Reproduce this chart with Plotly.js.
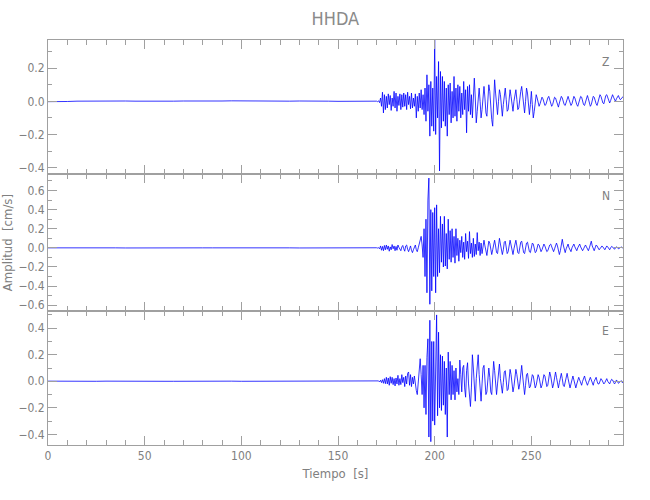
<!DOCTYPE html>
<html>
<head>
<meta charset="utf-8">
<script src="https://cdn.plot.ly/plotly-3.0.1.min.js"></script>
<style>html,body{margin:0;padding:0;background:#fff}#chart{width:650px;height:500px}</style>
</head>
<body>
<div id="chart"></div>
<script>
// ---- data ----
var stationName = "HHDA";
var componentNames = ["Z", "N", "E"];
var xTickValues = [0, 50, 100, 150, 200, 250];

// pre-event part: time samples [s]
var quietTime = [0,5,10,15,20,25,30,35,40,45,50,55,60,65,70,75,80,85,90,95,100,105,110,115,120,125,130,135,140,145,150,155,160,165];
var zQuiet = [-0.002,-0.003,-0.001,0.001,0.002,0.003,0.004,0.003,0.002,0.001,0.0,-0.001,0.0,0.001,0.002,0.001,0.0,0.001,0.002,0.003,0.002,0.001,0.0,-0.001,0.0,0.001,0.002,0.003,0.002,0.001,0.0,0.001,0.0,0.002];
var nQuiet = [0.0,0.001,0.0,-0.001,0.0,0.001,0.0,0.0,-0.001,0.0,0.001,0.0,0.0,-0.001,0.0,0.001,0.0,0.0,0.001,0.0,-0.001,0.0,0.0,0.001,0.0,0.0,-0.001,0.0,0.001,0.0,0.0,-0.001,0.0,0.001];
var eQuiet = [0.001,0.0,0.001,0.0,-0.001,0.0,0.001,0.0,0.0,0.001,0.0,-0.001,0.0,0.0,0.001,0.0,0.0,-0.001,0.0,0.001,0.0,0.0,0.001,0.0,-0.001,0.0,0.0,0.001,0.0,0.0,-0.001,0.0,0.001,0.0];

// event part: records start at 170 s, one sample every 0.5 s
var recordStart = 170;
var sampleInterval = 0.5;
var zAmp = [
 0.001,-0.002,0.003,-0.008,0.02,-0.03,0.055,-0.07,0.04,-0.05,
 0.03,-0.04,0.045,-0.02,0.035,-0.055,0.02,-0.03,0.06,-0.04,
 0.05,-0.06,0.03,-0.025,0.045,-0.05,0.04,-0.035,0.05,-0.03,
 0.04,-0.05,0.055,-0.02,0.03,-0.045,0.05,-0.04,0.02,-0.03,
 0.045,-0.1,0.03,-0.06,0.05,-0.04,0.07,-0.05,0.04,-0.08,
 0.08,-0.12,0.16,-0.06,0.1,-0.21,0.12,-0.15,0.08,-0.18,
 0.37,-0.2,0.15,-0.1,0.24,-0.42,0.18,-0.16,0.15,-0.12,
 0.12,-0.15,0.08,-0.21,0.1,-0.08,0.11,-0.13,0.06,-0.1,
 0.15,-0.09,0.08,-0.12,0.1,-0.06,0.09,-0.1,0.05,-0.08,
 0.12,-0.05,0.07,-0.19,0.09,-0.06,0.1,-0.08,0.04,-0.1,
 0.08,0.14,0.02,-0.13,-0.06,0.04,0.08,0.0,-0.1,-0.05,
 0.05,0.09,0.02,-0.07,-0.09,0.0,0.1,0.06,-0.04,-0.11,
 -0.15,0.02,0.13,0.05,-0.05,-0.08,0.0,0.07,0.04,-0.06,
 -0.09,-0.02,0.06,0.08,0.01,-0.06,-0.05,0.02,0.07,0.03,
 -0.04,-0.06,0.0,0.05,0.07,0.01,-0.05,-0.04,0.02,0.06,
 0.09,0.02,-0.05,-0.07,0.0,0.08,0.05,-0.04,-0.08,-0.02,
 0.06,-0.02,-0.1,-0.06,0.02,0.04,0.02,-0.01,-0.03,-0.015,
 0.01,0.025,0.015,-0.01,-0.025,-0.02,0.005,0.02,0.03,0.01,
 -0.015,-0.03,-0.02,0.005,0.025,0.02,-0.005,-0.025,-0.035,-0.01,
 0.015,0.03,0.02,-0.005,-0.02,-0.025,0.0,0.02,0.03,0.01,
 -0.01,-0.025,-0.015,0.01,0.03,0.02,-0.005,-0.02,-0.03,-0.01,
 0.015,0.03,0.025,0.0,-0.02,-0.025,-0.005,0.02,0.035,0.015,
 -0.01,-0.03,-0.02,0.01,0.03,0.025,0.0,-0.015,-0.025,-0.005,
 0.02,0.04,0.03,0.005,-0.01,-0.015,0.01,0.035,0.04,0.02,
 0.0,-0.01,0.005,0.03,0.04,0.025,0.005,0.0,0.015,0.03,
 0.035,0.02,0.01,0.015,0.025,0.03
];
var nAmp = [
 0.001,-0.002,0.002,-0.01,0.02,-0.025,0.015,-0.03,0.025,-0.02,
 0.03,-0.015,0.02,-0.035,0.01,-0.02,0.035,-0.01,0.02,-0.03,
 0.015,-0.025,0.03,0.005,-0.02,-0.03,0.01,0.025,-0.01,-0.035,
 0.02,0.03,-0.015,-0.04,-0.01,0.02,-0.025,-0.05,-0.02,0.01,
 0.03,-0.02,-0.04,0.0,0.05,0.08,0.12,0.03,-0.1,0.2,
 -0.3,0.3,-0.47,0.5,0.73,-0.59,0.4,-0.45,0.37,-0.3,
 0.42,-0.47,0.45,-0.3,0.2,-0.26,0.33,-0.15,0.25,-0.2,
 0.33,-0.19,0.15,-0.22,0.3,-0.12,0.18,-0.15,0.2,-0.1,
 0.12,-0.16,0.2,-0.08,0.1,-0.14,0.08,-0.05,0.12,-0.1,
 0.06,-0.12,0.15,-0.04,0.07,-0.11,0.17,-0.06,0.05,-0.1,
 0.1,-0.09,0.04,-0.07,0.16,-0.03,0.06,-0.08,0.05,-0.06,
 0.04,0.08,0.02,-0.06,-0.08,0.0,0.07,0.05,-0.03,-0.07,
 -0.02,0.05,0.08,0.02,-0.05,-0.06,0.01,0.1,0.04,-0.04,
 -0.07,-0.02,0.06,0.07,0.0,-0.06,-0.04,0.03,0.08,0.03,
 -0.04,-0.07,-0.01,0.06,0.08,0.02,-0.05,-0.06,0.0,0.06,
 0.07,0.01,-0.05,-0.06,0.0,0.05,0.06,0.01,-0.04,-0.05,
 0.0,0.05,0.04,-0.01,-0.05,-0.04,0.01,0.04,0.03,-0.02,
 -0.04,-0.02,0.02,0.04,0.02,-0.02,-0.04,-0.03,0.01,0.03,
 0.04,0.01,-0.03,-0.04,-0.01,0.03,0.05,0.02,-0.03,-0.07,
 -0.03,0.04,0.09,0.03,-0.03,-0.05,-0.01,0.03,0.04,0.0,
 -0.03,-0.04,0.0,0.03,0.04,0.01,-0.02,-0.03,0.0,0.03,
 0.04,0.01,-0.02,-0.03,-0.01,0.02,0.03,0.01,-0.02,-0.03,
 0.0,0.04,0.07,0.02,-0.02,-0.03,0.0,0.03,0.02,-0.01,
 -0.02,-0.01,0.01,0.02,0.01,-0.01,-0.02,0.0,0.02,0.01,
 -0.01,-0.02,0.0,0.015,0.01,-0.01,-0.015,0.0,0.01,0.005,
 -0.01,-0.005,0.005,0.01,0.0,0.005
];
var eAmp = [
 0.001,-0.002,0.003,-0.005,0.008,-0.01,0.012,-0.015,0.02,-0.018,
 0.03,-0.02,0.025,-0.03,0.035,-0.015,0.03,-0.025,0.02,-0.035,
 0.025,-0.02,0.045,-0.03,0.02,-0.025,0.05,-0.01,0.03,-0.04,
 0.04,-0.02,0.06,0.07,-0.03,0.05,-0.04,0.03,-0.02,0.04,
 -0.03,-0.07,-0.1,0.02,0.05,0.17,0.05,-0.1,0.12,-0.2,
 0.12,-0.25,0.18,0.32,-0.42,0.46,-0.455,0.3,-0.3,0.3,
 -0.33,0.32,0.5,-0.26,0.37,-0.2,0.2,-0.22,0.19,-0.18,
 0.15,-0.25,0.1,-0.42,0.22,-0.1,0.15,-0.14,0.12,-0.1,
 0.08,-0.14,0.1,-0.08,0.02,-0.1,0.16,0.05,-0.08,0.1,
 0.12,-0.05,-0.12,0.08,0.14,-0.02,-0.1,-0.19,-0.05,0.2,
 0.1,-0.08,-0.15,0.02,0.14,0.2,0.05,-0.1,-0.15,-0.02,
 0.1,0.12,-0.02,-0.1,-0.08,0.05,0.1,0.03,-0.08,-0.1,
 0.02,0.15,0.08,-0.06,-0.1,-0.02,0.08,0.13,0.02,-0.07,
 -0.09,-0.01,0.07,0.08,0.0,-0.07,-0.06,0.03,0.09,0.05,
 -0.03,-0.08,-0.04,0.04,0.09,0.05,-0.03,-0.06,-0.02,0.06,
 0.12,0.04,-0.05,-0.1,-0.03,0.05,0.06,0.0,-0.05,-0.04,
 0.01,0.05,0.04,-0.01,-0.05,-0.03,0.02,0.05,0.03,-0.02,
 -0.05,-0.03,0.02,0.05,0.04,-0.01,-0.04,-0.03,0.02,0.07,
 0.04,-0.02,-0.05,-0.02,0.03,0.07,0.03,-0.03,-0.05,-0.01,
 0.04,0.06,0.02,-0.03,-0.04,0.0,0.04,0.06,0.02,-0.03,
 -0.05,-0.02,0.02,0.04,0.01,-0.03,-0.05,-0.02,0.02,0.03,
 0.01,-0.02,-0.03,0.0,0.03,0.04,0.01,-0.02,-0.03,-0.01,
 0.02,0.03,0.01,-0.02,-0.03,0.0,0.02,0.03,0.0,-0.02,
 -0.02,0.0,0.02,0.01,-0.01,-0.02,-0.01,0.01,0.02,0.0,
 -0.015,-0.02,0.0,0.015,0.01,-0.01,-0.02,-0.01,0.01,0.0,
 -0.015,-0.01,0.0,0.005,-0.01,-0.005
];

// ---- build traces ----
function buildTime(n) {
  var t = quietTime.slice();
  for (var i = 0; i < n; i++) t.push(recordStart + i * sampleInterval);
  return t;
}
var series = [zQuiet.concat(zAmp), nQuiet.concat(nAmp), eQuiet.concat(eAmp)];
var lens = [zAmp.length, nAmp.length, eAmp.length];
var traces = series.map(function (v, k) {
  return {
    x: buildTime(lens[k]), y: v, type: 'scatter', mode: 'lines',
    line: {color: '#0000ff', width: 0.8},
    xaxis: k === 0 ? 'x' : 'x' + (k + 1),
    yaxis: k === 0 ? 'y' : 'y' + (k + 1),
    hoverinfo: 'skip', showlegend: false
  };
});

var gray = '#a0a0a0';
var tickFont = {family: 'Liberation Sans Narrow, DejaVu Sans Condensed, Arial Narrow, sans-serif', size: 12, color: '#808080'};
function xAxis(anchor, labels) {
  return {
    anchor: anchor, range: [0, 297.4], showgrid: false, zeroline: false,
    showline: true, linecolor: gray, linewidth: 1, mirror: 'ticks',
    ticks: 'inside', ticklen: 9, tickcolor: gray, tickvals: xTickValues,
    showticklabels: labels, tickfont: tickFont,
    minor: {dtick: 10, ticks: 'inside', ticklen: 5, tickcolor: gray},
    matches: anchor === 'y' ? undefined : 'x'
  };
}
function yAxis(anchor, dom, range) {
  return {
    anchor: anchor, domain: dom, range: range, showgrid: false, zeroline: false,
    showline: true, linecolor: gray, linewidth: 1, mirror: 'ticks',
    ticks: 'inside', ticklen: 9, tickcolor: gray, dtick: 0.2, tick0: 0,
    tickformat: '.1f', tickfont: tickFont,
    minor: {dtick: 0.1, ticks: 'inside', ticklen: 4, tickcolor: gray}
  };
}

var layout = {
  width: 650, height: 500,
  margin: {l: 48, r: 27, t: 40, b: 55},
  paper_bgcolor: '#fff', plot_bgcolor: '#fff',
  title: {text: stationName, x: 0.516, xanchor: 'center', y: 0.962, yanchor: 'middle',
    font: {family: 'Liberation Sans Narrow, DejaVu Sans Condensed, sans-serif', size: 18, color: '#8a8a8a'}},
  xaxis: xAxis('y', false),
  xaxis2: xAxis('y2', false),
  xaxis3: Object.assign(xAxis('y3', true), {
    title: {text: 'Tiempo  [s]', standoff: 6, font: {family: tickFont.family, size: 13, color: '#808080'}}
  }),
  yaxis: yAxis('x', [0.6685, 1], [-0.44, 0.37]),
  yaxis2: Object.assign(yAxis('x2', [0.331, 0.6685], [-0.66, 0.77]), {
    title: {text: 'Amplitud  [cm/s]', standoff: 11, font: {family: tickFont.family, size: 13, color: '#808080'}}
  }),
  yaxis3: yAxis('x3', [0, 0.331], [-0.48, 0.53]),
  annotations: componentNames.map(function (c, k) {
    return {text: c, xref: 'paper', yref: 'paper', x: 0.97, y: [0.946, 0.615, 0.281][k],
      showarrow: false, xanchor: 'center', yanchor: 'middle',
      font: {family: tickFont.family, size: 12, color: '#808080'}};
  })
};

Plotly.newPlot('chart', traces, layout, {staticPlot: true, displayModeBar: false});
</script>
</body>
</html>
